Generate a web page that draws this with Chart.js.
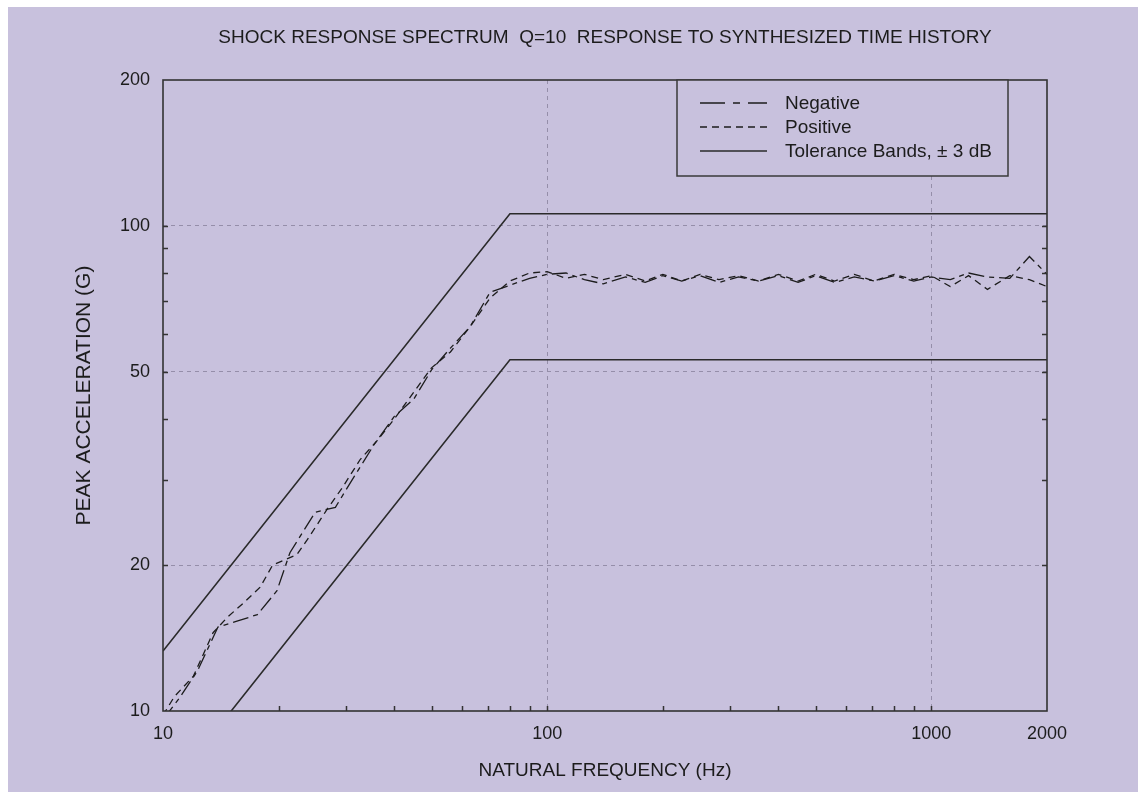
<!DOCTYPE html>
<html>
<head>
<meta charset="utf-8">
<script src="https://cdn.jsdelivr.net/npm/chart.js@4.4.1/dist/chart.umd.min.js"></script>
<style>
  html, body { margin: 0; padding: 0; background: #fff; }
  canvas { display: block; }
</style>
</head>
<body>
<canvas id="srs" width="1143" height="792"></canvas>
<script>
// response curves (Hz, G)
const negFreq = [10, 11, 12.3, 13.9, 15.5, 17.6, 19.8, 21.4, 24.9, 28.1, 31.5, 35.5, 40, 45, 50, 56, 63, 71, 80, 90,
  100, 112, 125, 140, 160, 180, 200, 224, 250, 280, 315, 355, 400, 450, 500, 560, 630, 710, 800, 900,
  1000, 1120, 1250, 1400, 1600, 1800, 2000];
const negAcc = [9.6, 10.6, 12.1, 14.9, 15.3, 15.8, 17.7, 21.2, 25.7, 26.3, 30.5, 35.5, 40.5, 44, 50.5, 56, 62, 73, 75.5, 78,
  79.5, 80, 77.5, 76, 78.5, 76.5, 79, 77, 79, 76.5, 78.5, 77, 79, 76.5, 79, 76.5, 78.5, 77, 79, 77,
  78.5, 77.5, 80, 78.5, 78, 86.5, 79.5];

const posFreq = [10, 10.7, 12, 13.5, 14.7, 16.2, 17.9, 19.3, 22.3, 23.7, 26.7, 29.4, 32.6, 36, 40, 45, 50, 56, 63, 71,
  80, 90, 100, 112, 125, 140, 160, 180, 200, 224, 250, 280, 315, 355, 400, 450, 500, 560, 630, 710,
  800, 900, 1000, 1120, 1250, 1400, 1600, 1800, 2000];
const posAcc = [9.8, 10.7, 11.8, 14.5, 15.6, 16.7, 18, 20, 21, 22.5, 26, 29, 33, 36, 40, 45.5, 51, 55, 62, 71,
  77, 80, 80.5, 78, 79.5, 77.5, 79.5, 77, 79.5, 77, 79.5, 77.5, 79, 77, 79.5, 77, 79.5, 77, 79.5, 77,
  79.5, 77.5, 79, 75, 79, 74, 79, 77.5, 75];

// +/- 3 dB around the 75 G reference
const bandFreq = [10, 80, 2000];
const upperBand = [13.3, 106, 106];
const lowerBand = [6.65, 53, 53];

const xTicks = [10, 100, 1000, 2000];
const yTicks = [10, 20, 50, 100, 200];
const xGrid = [100, 1000];
const yGrid = [20, 50, 100];

const LAVENDER = '#c8c1dd';
const INK = '#1c1c1c';

function pts(xs, ys) {
  return xs.map((x, i) => ({ x: x, y: ys[i] }));
}

// every decade multiple, for the little inside tick marks
function minorValues(lo, hi) {
  const out = [];
  for (let d = 1; d <= hi; d *= 10) {
    for (let k = 1; k < 10; k++) {
      const v = k * d;
      if (v > lo && v < hi) out.push(v);
    }
  }
  return out;
}

const background = {
  id: 'background',
  beforeDraw(chart) {
    const ctx = chart.ctx;
    ctx.save();
    ctx.fillStyle = '#fff';
    ctx.fillRect(0, 0, chart.width, chart.height);
    ctx.fillStyle = LAVENDER;
    ctx.fillRect(8, 7, chart.width - 13, chart.height - 7);
    ctx.restore();
  }
};

const frame = {
  id: 'frame',
  afterDatasetsDraw(chart) {
    const ctx = chart.ctx;
    const a = chart.chartArea;
    const xs = chart.scales.x, ys = chart.scales.y;
    ctx.save();
    ctx.strokeStyle = '#333';
    ctx.lineWidth = 1.5;
    ctx.beginPath();
    // minor ticks bottom
    minorValues(xs.min, xs.max).forEach(v => {
      const px = Math.round(xs.getPixelForValue(v)) + 0.5;
      ctx.moveTo(px, a.bottom);
      ctx.lineTo(px, a.bottom - 5);
    });
    // minor ticks left and right
    minorValues(ys.min, ys.max).forEach(v => {
      const py = Math.round(ys.getPixelForValue(v)) + 0.5;
      ctx.moveTo(a.left, py);
      ctx.lineTo(a.left + 5, py);
      ctx.moveTo(a.right, py);
      ctx.lineTo(a.right - 5, py);
    });
    ctx.stroke();
    ctx.lineWidth = 1.6;
    ctx.strokeRect(a.left, a.top, a.right - a.left, a.bottom - a.top);
    ctx.restore();
  }
};

const boxLegend = {
  id: 'boxLegend',
  afterDraw(chart) {
    const ctx = chart.ctx;
    const a = chart.chartArea;
    const x0 = 677, x1 = 1008, y0 = a.top, y1 = 176;
    ctx.save();
    ctx.fillStyle = LAVENDER;
    ctx.fillRect(x0, y0, x1 - x0, y1 - y0);
    ctx.strokeStyle = '#3a3a3a';
    ctx.lineWidth = 1.5;
    ctx.strokeRect(x0, y0, x1 - x0, y1 - y0);
    ctx.font = '19px "Liberation Sans", Arial, sans-serif';
    ctx.textBaseline = 'middle';
    ctx.fillStyle = INK;
    let y = 103;
    chart.data.datasets.forEach(ds => {
      if (!ds.label) return;
      ctx.strokeStyle = ds.borderColor;
      ctx.lineWidth = 1.4;
      ctx.setLineDash(ds.legendDash || ds.borderDash || []);
      ctx.beginPath();
      ctx.moveTo(700, y);
      ctx.lineTo(767, y);
      ctx.stroke();
      ctx.setLineDash([]);
      ctx.fillText(ds.label, 785, y + 1);
      y += 24;
    });
    ctx.restore();
  }
};

const gridColor = (list) => (c) => (c.tick && list.includes(c.tick.value)) ? '#958ea9' : 'rgba(0,0,0,0)';

new Chart(document.getElementById('srs'), {
  type: 'line',
  data: {
    datasets: [
      {
        label: 'Negative',
        data: pts(negFreq, negAcc),
        borderColor: INK,
        borderWidth: 1.3,
        borderDash: [16, 5, 5, 5],
        legendDash: [25, 8, 7, 8],
        pointRadius: 0,
        tension: 0
      },
      {
        label: 'Positive',
        data: pts(posFreq, posAcc),
        borderColor: INK,
        borderWidth: 1.3,
        borderDash: [7, 5],
        pointRadius: 0,
        tension: 0
      },
      {
        label: 'Tolerance Bands, \u00b1 3 dB',
        data: pts(bandFreq, upperBand),
        borderColor: '#2a2a2a',
        borderWidth: 1.6,
        pointRadius: 0
      },
      {
        data: pts(bandFreq, lowerBand),
        borderColor: '#2a2a2a',
        borderWidth: 1.6,
        pointRadius: 0
      }
    ]
  },
  options: {
    responsive: false,
    animation: false,
    devicePixelRatio: 1,
    layout: { padding: { left: 0, right: 96, top: 0, bottom: 0 } },
    plugins: {
      legend: { display: false },
      tooltip: { enabled: false },
      title: {
        display: true,
        fullSize: false,
        text: 'SHOCK RESPONSE SPECTRUM  Q=10  RESPONSE TO SYNTHESIZED TIME HISTORY',
        color: INK,
        font: { family: '"Liberation Sans", Arial, sans-serif', size: 19, weight: 'normal' },
        padding: { top: 26, bottom: 31.2 }
      }
    },
    scales: {
      x: {
        type: 'logarithmic',
        min: 10,
        max: 2000,
        afterBuildTicks: (s) => { s.ticks = xTicks.map(v => ({ value: v })); },
        afterFit: (s) => { s.height = 81; },
        ticks: {
          callback: (v) => String(v),
          color: INK,
          padding: 12,
          maxRotation: 0,
          font: { family: '"Liberation Sans", Arial, sans-serif', size: 18 }
        },
        grid: { color: gridColor(xGrid), lineWidth: 1, drawTicks: false },
        border: { display: false, dash: [4, 4] },
        title: {
          display: true,
          text: 'NATURAL FREQUENCY (Hz)',
          color: INK,
          font: { family: '"Liberation Sans", Arial, sans-serif', size: 19 },
          padding: { top: 0, bottom: 10 }
        }
      },
      y: {
        type: 'logarithmic',
        min: 10,
        max: 200,
        afterBuildTicks: (s) => { s.ticks = yTicks.map(v => ({ value: v })); },
        afterFit: (s) => { s.width = 163; },
        ticks: {
          callback: (v) => String(v),
          color: INK,
          padding: 13,
          font: { family: '"Liberation Sans", Arial, sans-serif', size: 18 }
        },
        grid: { color: gridColor(yGrid), lineWidth: 1, drawTicks: false },
        border: { display: false, dash: [4, 4] },
        title: {
          display: true,
          text: 'PEAK ACCELERATION (G)',
          color: INK,
          font: { family: '"Liberation Sans", Arial, sans-serif', size: 21 },
          padding: { top: 72, bottom: 0 }
        }
      }
    }
  },
  plugins: [background, frame, boxLegend]
});
</script>
</body>
</html>
